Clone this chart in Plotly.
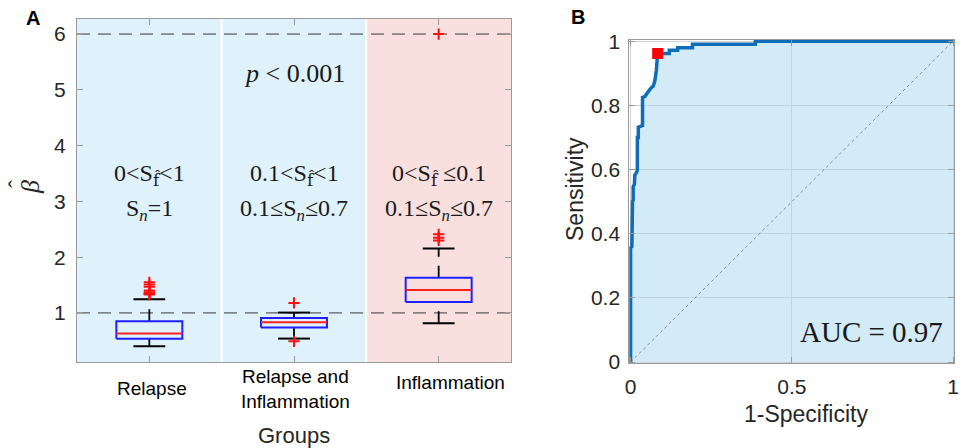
import plotly.graph_objects as go

# ---------------- data ----------------
groups = ["Relapse", "Relapse and<br>Inflammation", "Inflammation"]
positions = [1, 2, 3]
q1 = [0.535, 0.738, 1.197]
medians = [0.63, 0.833, 1.41]
q3 = [0.851, 0.91, 1.632]
whisker_lo = [0.404, 0.54, 0.815]
whisker_hi = [1.245, 1.006, 2.157]
outliers = [
    [1.33, 1.34, 1.35, 1.37, 1.40, 1.47, 1.51, 1.55],
    [0.49, 1.18],
    [2.30, 2.35, 2.41, 6.0],
]
ref_levels = [1, 6]
y_ticks_a = [1, 2, 3, 4, 5, 6]

FHAT = '<sub><span style="font-family:DejaVu Serif">f̂</span></sub>'
cond_line1 = ["0&lt;S" + FHAT + "&lt;1", "0.1&lt;S" + FHAT + "&lt;1", "0&lt;S" + FHAT + " ≤0.1"]
cond_line2 = ["S<sub><i>n</i></sub>=1", "0.1≤S<sub><i>n</i></sub>≤0.7", "0.1≤S<sub><i>n</i></sub>≤0.7"]
p_text = "<i>p</i> &lt; 0.001"

roc_fpr = [0, 0, 0.004, 0.004, 0.006, 0.006, 0.008, 0.008, 0.012, 0.013, 0.018, 0.021, 0.021,
           0.024, 0.024, 0.033, 0.037, 0.037, 0.045, 0.049, 0.055, 0.060, 0.065, 0.070, 0.075,
           0.077, 0.080, 0.082, 0.084, 0.120, 0.120, 0.146, 0.146, 0.192, 0.192, 0.387, 0.387, 1.0]
roc_tpr = [0, 0.356, 0.360, 0.430, 0.440, 0.500, 0.505, 0.546, 0.555, 0.582, 0.590, 0.598, 0.700,
           0.700, 0.732, 0.737, 0.737, 0.825, 0.828, 0.835, 0.845, 0.850, 0.856, 0.860, 0.875,
           0.886, 0.910, 0.938, 0.962, 0.962, 0.972, 0.972, 0.980, 0.980, 0.991, 0.991, 1.0, 1.0]
opt_fpr = [0.084]
opt_tpr = [0.962]
auc_value = 0.97
x_ticks_b = [0, 0.5, 1]
y_ticks_b = [0, 0.2, 0.4, 0.6, 0.8, 1]

# ---------------- style ----------------
W, H = 968, 448
SANS = "Liberation Sans, Arial, Helvetica, sans-serif"
SERIF = "Liberation Serif, Times New Roman, serif"
TXT = "#262626"
FRAME = "#9a9a9a"
BLUE_BG = "#dff1fb"
PINK_BG = "#f9dfde"
group_bg = [BLUE_BG, BLUE_BG, PINK_BG]
BOX_HW = 0.228
CAP_HW = 0.11


def px(x):
    return x / W


def py(y):
    return 1 - y / H


fig = go.Figure()

# reference dashed lines (panel A)
for lv in ref_levels:
    fig.add_trace(go.Scatter(x=[0.5, 3.5], y=[lv, lv], mode="lines",
                             line=dict(color="#3a3a3a", width=1, dash="13px,8px"),
                             hoverinfo="skip", showlegend=False, xaxis="x", yaxis="y"))

for i, pos in enumerate(positions):
    # whiskers (dashed)
    fig.add_trace(go.Scatter(x=[pos, pos], y=[whisker_lo[i], q1[i]], mode="lines",
                             line=dict(color="black", width=1.8, dash="12px,9px"),
                             showlegend=False, hoverinfo="skip", xaxis="x", yaxis="y"))
    fig.add_trace(go.Scatter(x=[pos, pos], y=[q3[i], whisker_hi[i]], mode="lines",
                             line=dict(color="black", width=1.8, dash="12px,9px"),
                             showlegend=False, hoverinfo="skip", xaxis="x", yaxis="y"))
    # caps
    for v in (whisker_lo[i], whisker_hi[i]):
        fig.add_trace(go.Scatter(x=[pos - CAP_HW, pos + CAP_HW], y=[v, v], mode="lines",
                                 line=dict(color="black", width=2),
                                 showlegend=False, hoverinfo="skip", xaxis="x", yaxis="y"))
    # box
    fig.add_trace(go.Scatter(x=[pos - BOX_HW, pos + BOX_HW, pos + BOX_HW, pos - BOX_HW, pos - BOX_HW],
                             y=[q1[i], q1[i], q3[i], q3[i], q1[i]], mode="lines",
                             fill="toself", fillcolor=group_bg[i],
                             line=dict(color="#1f1fff", width=2),
                             showlegend=False, hoverinfo="skip", xaxis="x", yaxis="y"))
    # median
    fig.add_trace(go.Scatter(x=[pos - BOX_HW, pos + BOX_HW], y=[medians[i], medians[i]], mode="lines",
                             line=dict(color="#ff2020", width=2),
                             showlegend=False, hoverinfo="skip", xaxis="x", yaxis="y"))
    # outliers
    fig.add_trace(go.Scatter(x=[pos] * len(outliers[i]), y=outliers[i], mode="markers",
                             marker=dict(symbol="cross-thin", size=8, line=dict(color="#ff1010", width=2)),
                             showlegend=False, hoverinfo="skip", cliponaxis=False,
                             xaxis="x", yaxis="y"))

# ---------------- panel B ----------------
fig.add_trace(go.Scatter(x=roc_fpr, y=roc_tpr, mode="none", fill="tozeroy",
                         fillcolor="rgba(168,214,240,0.5)",
                         showlegend=False, hoverinfo="skip", xaxis="x2", yaxis="y2"))
fig.add_trace(go.Scatter(x=[0, 1], y=[0, 1], mode="lines",
                         line=dict(color="#8a8a8a", width=1, dash="3px,3px"),
                         showlegend=False, hoverinfo="skip", xaxis="x2", yaxis="y2"))
fig.add_trace(go.Scatter(x=roc_fpr, y=roc_tpr, mode="lines",
                         line=dict(color="#0f6db8", width=3.5),
                         showlegend=False, hoverinfo="skip", xaxis="x2", yaxis="y2"))
fig.add_trace(go.Scatter(x=opt_fpr, y=opt_tpr, mode="markers",
                         marker=dict(symbol="square", size=11, color="#ff0000"),
                         showlegend=False, hoverinfo="skip", cliponaxis=False,
                         xaxis="x2", yaxis="y2"))

# background shapes panel A
shapes = [
    dict(type="rect", xref="x", yref="y domain", x0=0.5, x1=2.5, y0=0, y1=1,
         fillcolor=BLUE_BG, line_width=0, layer="below"),
    dict(type="rect", xref="x", yref="y domain", x0=2.5, x1=3.5, y0=0, y1=1,
         fillcolor=PINK_BG, line_width=0, layer="below"),
]
for b in (1.5, 2.5):
    shapes.append(dict(type="line", xref="x", yref="y domain", x0=b, x1=b, y0=0, y1=1,
                       line=dict(color="white", width=2), layer="below"))

annotations = []
# category labels
cat_pos = [(152, 388), (295, 389), (450, 382)]
for g, (xx, yy) in zip(groups, cat_pos):
    annotations.append(dict(text=g, x=px(xx), y=py(yy), xref="paper", yref="paper",
                            showarrow=False, font=dict(family=SANS, size=19, color="black"),
                            xanchor="center", yanchor="middle"))
# condition labels
for i, pos in enumerate(positions):
    annotations.append(dict(text=cond_line1[i], x=pos, y=py(175), xref="x", yref="paper",
                            showarrow=False, font=dict(family=SERIF, size=24, color="#1a1a1a"),
                            xanchor="center", yanchor="middle"))
    annotations.append(dict(text=cond_line2[i], x=pos, y=py(210), xref="x", yref="paper",
                            showarrow=False, font=dict(family=SERIF, size=24, color="#1a1a1a"),
                            xanchor="center", yanchor="middle"))
annotations += [
    dict(text=p_text, x=px(294), y=py(74), xref="paper", yref="paper", showarrow=False,
         font=dict(family=SERIF, size=26, color="#1a1a1a"), xanchor="center", yanchor="middle"),
    dict(text="Groups", x=px(294), y=py(435), xref="paper", yref="paper", showarrow=False,
         font=dict(family=SANS, size=22, color=TXT), xanchor="center", yanchor="middle"),
    dict(text="<i>β</i>", x=px(30), y=py(187), xref="paper", yref="paper", showarrow=False,
         textangle=-90, font=dict(family=SERIF, size=26, color=TXT), xanchor="center", yanchor="middle"),
    dict(text="ˆ", x=px(17), y=py(184), xref="paper", yref="paper", showarrow=False,
         textangle=-90, font=dict(family=SERIF, size=24, color=TXT), xanchor="center", yanchor="middle"),
    dict(text="<b>A</b>", x=px(33), y=py(18), xref="paper", yref="paper", showarrow=False,
         font=dict(family=SANS, size=20, color="black"), xanchor="center", yanchor="middle"),
    dict(text="<b>B</b>", x=px(578), y=py(17), xref="paper", yref="paper", showarrow=False,
         font=dict(family=SANS, size=20, color="black"), xanchor="center", yanchor="middle"),
    dict(text="1-Specificity", x=px(806), y=py(414), xref="paper", yref="paper", showarrow=False,
         font=dict(family=SANS, size=23, color=TXT), xanchor="center", yanchor="middle"),
    dict(text="Sensitivity", x=px(575), y=py(189), xref="paper", yref="paper", showarrow=False,
         textangle=-90, font=dict(family=SANS, size=23, color=TXT), xanchor="center", yanchor="middle"),
    dict(text=f"AUC = {auc_value:.2f}", x=px(871), y=py(332), xref="paper", yref="paper",
         showarrow=False, font=dict(family=SERIF, size=29, color="#1a1a1a"),
         xanchor="center", yanchor="middle"),
]

axis_common = dict(showline=True, linecolor=FRAME, linewidth=1, mirror="allticks",
                   ticks="inside", ticklen=6, tickcolor=FRAME, zeroline=False,
                   automargin=False)

fig.update_layout(
    template="none",
    width=W, height=H, margin=dict(l=0, r=0, t=0, b=0, pad=0), autosize=False,
    paper_bgcolor="white", plot_bgcolor="white",
    showlegend=False, hovermode=False,
    xaxis=dict(domain=[px(77), px(511)], range=[0.5, 3.5], tickvals=positions,
               showticklabels=False, showgrid=False, anchor="y", **axis_common),
    yaxis=dict(domain=[py(362), py(19)], range=[0.12, 6.27], tickvals=y_ticks_a,
               tickfont=dict(family=SANS, size=21, color=TXT), ticklabelstandoff=6,
               showgrid=False, anchor="x", **axis_common),
    xaxis2=dict(domain=[px(629.3), px(954.3)], range=[-0.004, 1.004], tickvals=x_ticks_b,
                ticktext=[f"{v:g}" for v in x_ticks_b],
                tickfont=dict(family=SANS, size=21, color=TXT), ticklabelstandoff=4,
                showgrid=True, gridcolor="#d4d4d4", gridwidth=1, anchor="y2", **axis_common),
    yaxis2=dict(domain=[py(363.3), py(40)], range=[-0.004, 1.004], tickvals=y_ticks_b,
                ticktext=[f"{v:g}" for v in y_ticks_b],
                tickfont=dict(family=SANS, size=21, color=TXT), ticklabelstandoff=4,
                showgrid=True, gridcolor="#d4d4d4", gridwidth=1, anchor="x2", **axis_common),
    shapes=shapes,
    annotations=annotations,
)

fig.write_html("out.html", config={"displayModeBar": False, "staticPlot": True},
               post_script="document.body.style.margin='0';document.body.style.overflow='hidden';")
